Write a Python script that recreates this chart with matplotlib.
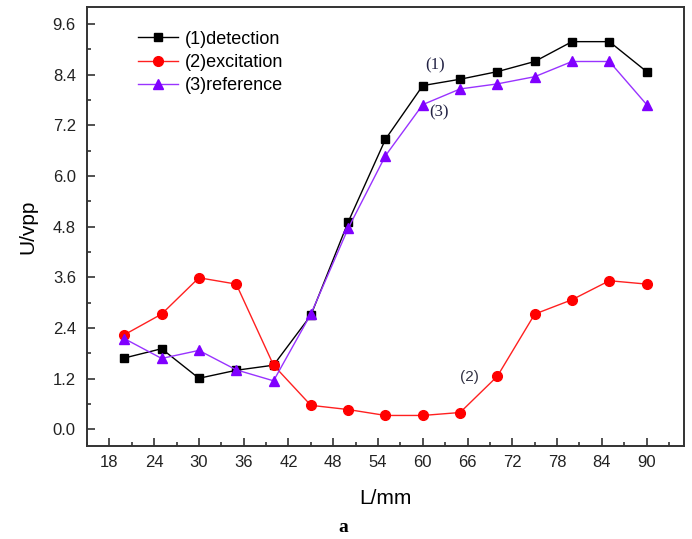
import numpy as np
import matplotlib
matplotlib.use("Agg")
from matplotlib import pyplot as plt

plt.rcParams['font.family'] = ['Liberation Sans', 'DejaVu Sans']

L = [20, 25, 30, 35, 40, 45, 50, 55, 60, 65, 70, 75, 80, 85, 90]
detection = [1.69, 1.91, 1.21, 1.40, 1.52, 2.70, 4.91, 6.87, 8.14, 8.29, 8.47, 8.71, 9.18, 9.18, 8.47]
excitation = [2.24, 2.73, 3.59, 3.44, 1.52, 0.57, 0.47, 0.33, 0.33, 0.40, 1.26, 2.73, 3.07, 3.52, 3.44]
reference = [2.15, 1.68, 1.87, 1.41, 1.15, 2.73, 4.76, 6.48, 7.69, 8.06, 8.18, 8.35, 8.71, 8.71, 7.69]

xticks = np.arange(18, 91, 6)
yticks = np.arange(0, 9.7, 1.2)

fig = plt.figure(figsize=(6.92, 5.39), dpi=100)
ax = fig.add_axes([0.1257, 0.172, 0.8627, 0.815])

ax.plot(L, detection, color="black", linewidth=1, marker="s", markersize=6.3, label="(1)detection")
ax.plot(L, excitation, color="#ff2020", linewidth=1, marker="o", markersize=7, markerfacecolor="red",
        markeredgecolor="red", label="(2)excitation")
ax.plot(L, reference, color="#9933ff", linewidth=1, marker="^", markersize=7.5, markerfacecolor="#8000ff",
        markeredgecolor="#8000ff", label="(3)reference")

ax.set_xlim(15, 95)
ax.set_ylim(-0.4, 10.0)
ax.set_xticks(xticks)
ax.set_xticks(np.arange(15, 95, 3), minor=True)
ax.set_yticks(yticks)
ax.set_yticks(np.arange(-0.0, 10.0, 0.6), minor=True)
ax.set_yticklabels(["%.1f" % v for v in yticks])
ax.tick_params(which="major", direction="in", length=6, width=1.2, colors="#333333", labelsize=12,
               labelcolor="#222222")
ax.tick_params(which="minor", direction="in", length=3, width=1.2, colors="#333333")
ax.tick_params(axis="x", pad=6)
ax.tick_params(axis="y", pad=8)
for s in ax.spines.values():
    s.set_color("#333333")
    s.set_linewidth(1.4)

ax.set_xlabel("L/mm", fontsize=15, labelpad=14)
ax.set_ylabel("U/vpp", fontsize=15, labelpad=11)

ax.text(61.7, 8.62, "(1)", family="Liberation Serif", fontsize=12, color="#222244", ha="center", va="center")
ax.text(62.2, 7.5, "(3)", family="Liberation Serif", fontsize=12, color="#222244", ha="center", va="center")
ax.text(66.3, 1.23, "(2)", fontsize=11, color="#333344", ha="center", va="center")

ax.legend(loc="upper left", bbox_to_anchor=(0.065, 0.975), frameon=False, fontsize=13,
          handlelength=2.2, handletextpad=0.4, labelspacing=0.35, borderaxespad=0.3)

fig.text(0.496, 0.022, "a", family="Liberation Serif", fontweight="bold", fontsize=14, ha="center", va="center")

plt.savefig("out.png", dpi=100)
